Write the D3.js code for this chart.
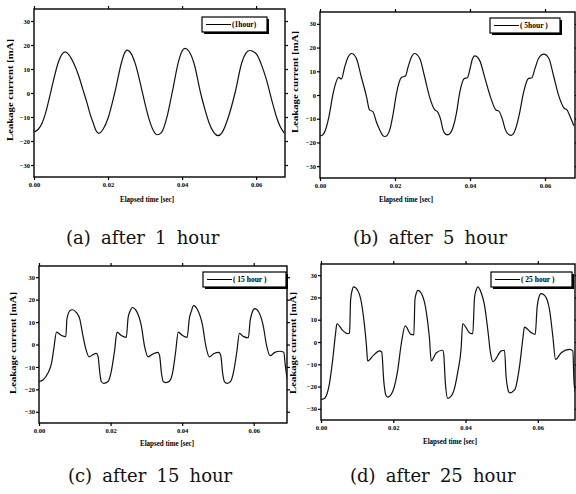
<!DOCTYPE html>
<html>
<head>
<meta charset="utf-8">
<script src="https://cdn.jsdelivr.net/npm/d3@7"></script>
<style>
  body { margin: 0; background: #fff; }
  svg { display: block; }
</style>
</head>
<body>
<script>
// values
const timeTicks = [0, 0.02, 0.04, 0.06]
const currentTicks = [-30, -20, -10, 0, 10, 20, 30]
const captions = ["(a) after 1 hour", "(b) after 5 hour", "(c) after 15 hour", "(d) after 25 hour"]
const legendLabels = ["(1hour)", "( 5hour )", "( 15 hour )", "( 25 hour )"]
const xTitle = "Elapsed time [sec]"
const yTitle = "Leakage current [mA]"

const hour1 = [
  [0, -16.2], [0.0011, -15.2], [0.0022, -12.5], [0.0032, -8], [0.004, -3], [0.0053, 5.5], [0.0064, 12],
  [0.0075, 16], [0.0084, 17.1], [0.0094, 16], [0.0107, 12.5], [0.012, 7.5], [0.0132, 1.5], [0.0143, -4],
  [0.0152, -9], [0.016, -12.5], [0.0167, -15.5], [0.0175, -16.8], [0.0187, -15], [0.02, -10.5], [0.0218, 0],
  [0.0236, 12.5], [0.0244, 16.5], [0.0252, 17.9], [0.0262, 16.5], [0.0275, 11.5], [0.0289, 2.8], [0.03, -4.5],
  [0.0311, -11], [0.0322, -15.5], [0.0333, -17.4], [0.0344, -16.5], [0.036, -9.5], [0.0373, 0], [0.0391, 13.5],
  [0.04, 17.5], [0.0408, 18.6], [0.0418, 17.5], [0.0432, 12.5], [0.045, 0], [0.0462, -7], [0.0473, -12.5],
  [0.0486, -16.5], [0.0497, -17.8], [0.0508, -16.5], [0.0524, -10.5], [0.0543, 0], [0.0561, 12.5], [0.0572, 16.5],
  [0.0582, 17.7], [0.0593, 17.2], [0.0603, 15.8], [0.0615, 11.5], [0.0626, 6.5], [0.0644, -4], [0.0655, -10],
  [0.0665, -14], [0.0676, -16.7]
]

const hour5 = [
  [0, -17.2], [0.0006, -17], [0.0014, -15], [0.0024, -9], [0.0035, 0.7], [0.005, 7.4], [0.0057, 6.8],
  [0.0066, 11.9], [0.0075, 16], [0.0084, 17.5], [0.0097, 15.4], [0.011, 7.7], [0.0124, -0.7], [0.0132, -6.3],
  [0.0141, -7], [0.015, -11.2], [0.0159, -14.7], [0.0167, -17], [0.0173, -17.5], [0.0179, -17], [0.0186, -14.7],
  [0.0195, -8], [0.0204, 0.7], [0.0217, 7.4], [0.0228, 8], [0.0235, 11.9], [0.0244, 16], [0.0252, 17.5],
  [0.0266, 15.4], [0.0279, 7.7], [0.0292, -0.7], [0.0306, -6.3], [0.0313, -7], [0.0322, -10.5], [0.0328, -14.7],
  [0.0335, -16.5], [0.0341, -16.8], [0.0348, -16], [0.0355, -13.5], [0.0364, -7.5], [0.0372, 0.5], [0.0385, 7],
  [0.0393, 7.3], [0.04, 11], [0.0406, 15], [0.0413, 16.5], [0.0426, 14.5], [0.044, 7], [0.0455, -1],
  [0.0469, -6.3], [0.0477, -6.8], [0.0487, -10.5], [0.0494, -14.5], [0.0502, -16.5], [0.051, -17], [0.0517, -16],
  [0.0524, -13], [0.0533, -7], [0.0542, 0.5], [0.0556, 7], [0.0565, 7.3], [0.0573, 11], [0.0583, 15.5],
  [0.0597, 17.2], [0.061, 15.5], [0.0623, 8], [0.0637, -0.5], [0.0651, -5.6], [0.0658, -6.2], [0.0668, -9.5],
  [0.0677, -13]
]

const hour15 = [
  [0, -16.5], [0.0011, -15.8], [0.0025, -12.7], [0.0035, -8.3], [0.0041, -2.3], [0.0049, 5.5], [0.0063, 4],
  [0.0075, 3.5], [0.0078, 11.3], [0.0086, 15], [0.0093, 15.5], [0.0104, 14.3], [0.0114, 11.3], [0.0123, 3.7],
  [0.013, -1.5], [0.014, -5.5], [0.0151, -4.5], [0.016, -4], [0.0165, -5.3], [0.017, -12.7], [0.0174, -16.5],
  [0.0181, -17.3], [0.0193, -16.5], [0.0202, -12], [0.0211, -3], [0.0218, 5.5], [0.023, 4], [0.0244, 3.2],
  [0.0249, 12], [0.0255, 15], [0.0261, 16.5], [0.0272, 15], [0.0286, 8.3], [0.0295, -0.8], [0.0305, -5.5],
  [0.0318, -4.2], [0.0332, -3.5], [0.0337, -5], [0.0342, -12.5], [0.0347, -16.5], [0.0355, -17], [0.0365, -16.3],
  [0.0374, -12], [0.0382, -3], [0.0389, 5.5], [0.0401, 4], [0.0414, 3.2], [0.042, 11.5], [0.0426, 15],
  [0.0432, 17.3], [0.0443, 15.5], [0.0457, 8.5], [0.0466, -0.5], [0.0476, -5.5], [0.0489, -4], [0.0503, -3.5],
  [0.0508, -5], [0.0513, -12.5], [0.0518, -16.5], [0.0526, -17.3], [0.0536, -16.3], [0.0544, -12], [0.0553, -3],
  [0.056, 5], [0.0572, 3.5], [0.0585, 3], [0.059, 10.5], [0.0596, 14.5], [0.0603, 16], [0.0614, 14.5],
  [0.0627, 8], [0.0636, -0.5], [0.0646, -5], [0.0659, -3.5], [0.0673, -3], [0.0684, -3.5], [0.0688, -9],
  [0.0693, -15]
]

const hour25 = [
  [0, -25.8], [0.0008, -25.5], [0.0014, -24.3], [0.0023, -19], [0.0032, -8.5], [0.004, 3.4], [0.0044, 8.2],
  [0.006, 5.2], [0.0074, 3.7], [0.0079, 4], [0.0082, 19], [0.0086, 23], [0.009, 24.7], [0.0102, 23],
  [0.0111, 18.4], [0.012, 8], [0.0126, -2], [0.0129, -8.5], [0.0145, -6], [0.0162, -4], [0.0168, -4.5],
  [0.0174, -18], [0.018, -24], [0.0185, -24.7], [0.0199, -22], [0.0212, -13], [0.0222, -1], [0.0233, 7.2],
  [0.0249, 3.4], [0.0257, 3.2], [0.026, 19], [0.0264, 22], [0.0268, 23.2], [0.0279, 21.4], [0.0291, 14],
  [0.03, 2], [0.0305, -8.5], [0.0319, -4.8], [0.0337, -3.7], [0.034, -6], [0.0344, -18], [0.0351, -25.3],
  [0.0365, -23], [0.0379, -13], [0.0388, -2.5], [0.0392, 8.2], [0.0411, 4.2], [0.042, 3.7], [0.0425, 20],
  [0.043, 23.5], [0.0434, 24.7], [0.0443, 22.2], [0.0452, 17], [0.0462, 5], [0.0469, -4.8], [0.0476, -8.8],
  [0.0499, -4], [0.0508, -3.7], [0.0512, -15], [0.0517, -21], [0.0522, -22.8], [0.0536, -21.5], [0.0549, -11.5],
  [0.0559, 2], [0.0563, 6.7], [0.0582, 4.2], [0.0593, 3.4], [0.0598, 15.4], [0.0603, 20], [0.0609, 21.7],
  [0.062, 20.7], [0.0633, 14], [0.0642, 2], [0.0649, -7.8], [0.0665, -4.8], [0.0688, -3.3], [0.0697, -4],
  [0.07, -17], [0.0703, -22.3]
]

const width = 576
const height = 494

// where each panel sits on the page
const panels = [
  {data: hour1, tmax: 0.0678, box: [34, 9, 285, 177], xt: [147, 202], yt: [10, 90], cap: [66, 244], leg: [202, 17, 65, 15]},
  {data: hour5, tmax: 0.068, box: [320, 12, 575, 178], xt: [406, 202], yt: [295, 82], cap: [353, 244], leg: [490, 18, 70, 15]},
  {data: hour15, tmax: 0.0693, box: [39, 266, 287, 423], xt: [167, 446], yt: [13, 343], cap: [68, 482], leg: [203, 272, 83, 15]},
  {data: hour25, tmax: 0.0703, box: [321, 264, 575, 420], xt: [450, 444], yt: [293, 343], cap: [350, 482], leg: [491, 272, 81, 15]}
]

const svg = d3.select("body").append("svg").attr("width", width).attr("height", height)
const labelFont = "'Liberation Serif', 'DejaVu Serif', serif"

panels.forEach((p, i) => {
  const [x0, y0, x1, y1] = p.box
  const x = d3.scaleLinear().domain([0, p.tmax]).range([x0, x1])
  const y = d3.scaleLinear().domain([-35, 35]).range([y1, y0])
  const g = svg.append("g")

  g.append("g").attr("transform", `translate(0,${y1})`)
    .call(d3.axisBottom(x).tickValues(timeTicks).tickFormat(d3.format(".2f")).tickSize(3).tickPadding(2))
  g.append("g").attr("transform", `translate(${x0},0)`)
    .call(d3.axisLeft(y).tickValues(currentTicks).tickSize(3).tickPadding(1))
  g.append("g").attr("transform", `translate(0,${y0})`)
    .call(d3.axisTop(x).tickValues(timeTicks).tickFormat("").tickSize(3))
  g.append("g").attr("transform", `translate(${x1},0)`)
    .call(d3.axisRight(y).tickValues(currentTicks).tickFormat("").tickSize(3))

  g.selectAll(".domain").remove()
  g.selectAll(".tick line").attr("stroke", "#000").attr("stroke-width", 1.2)
  g.selectAll(".tick text").attr("font-family", labelFont).attr("font-weight", "bold")
    .attr("font-size", 6.5).attr("fill", "#000")

  g.append("rect").attr("x", x0).attr("y", y0).attr("width", x1 - x0).attr("height", y1 - y0)
    .attr("fill", "none").attr("stroke", "#000").attr("stroke-width", 1.4)

  const clipId = "clip" + i
  svg.append("clipPath").attr("id", clipId).append("rect")
    .attr("x", x0).attr("y", y0).attr("width", x1 - x0).attr("height", y1 - y0)

  const line = d3.line().x((d) => x(d[0])).y((d) => y(d[1])).curve(d3.curveMonotoneX)
  g.append("path").datum(p.data).attr("clip-path", `url(#${clipId})`)
    .attr("d", line).attr("fill", "none").attr("stroke", "#111").attr("stroke-width", 1.2)
    .attr("stroke-linejoin", "round")

  // legend with drop shadow
  const [lx, ly, lw, lh] = p.leg
  g.append("rect").attr("x", lx + 2).attr("y", ly + 2).attr("width", lw).attr("height", lh).attr("fill", "#000")
  g.append("rect").attr("x", lx).attr("y", ly).attr("width", lw).attr("height", lh)
    .attr("fill", "#fff").attr("stroke", "#000").attr("stroke-width", 1.2)
  g.append("line").attr("x1", lx + 4).attr("x2", lx + 29).attr("y1", ly + lh / 2).attr("y2", ly + lh / 2)
    .attr("stroke", "#000").attr("stroke-width", 1)
  g.append("text").attr("x", lx + 30).attr("y", ly + lh / 2 + 2.5)
    .attr("font-family", labelFont).attr("font-weight", "bold").attr("font-size", 7.5)
    .text(legendLabels[i])

  g.append("text").attr("x", p.xt[0]).attr("y", p.xt[1]).attr("text-anchor", "middle")
    .attr("font-family", labelFont).attr("font-weight", "bold").attr("font-size", 7.5)
    .attr("textLength", 54).attr("lengthAdjust", "spacingAndGlyphs")
    .text(xTitle)

  g.append("text").attr("transform", `translate(${p.yt[0]},${p.yt[1]}) rotate(-90)`)
    .attr("text-anchor", "middle").attr("dy", "0.35em")
    .attr("font-family", labelFont).attr("font-weight", "bold").attr("font-size", 7.5)
    .attr("textLength", 102).attr("lengthAdjust", "spacingAndGlyphs")
    .text(yTitle)

  svg.append("text").attr("x", p.cap[0]).attr("y", p.cap[1])
    .attr("font-family", "'DejaVu Serif', 'Liberation Serif', serif").attr("font-size", 18)
    .attr("word-spacing", 4.5).attr("fill", "#111")
    .text(captions[i])
})
</script>
</body>
</html>
